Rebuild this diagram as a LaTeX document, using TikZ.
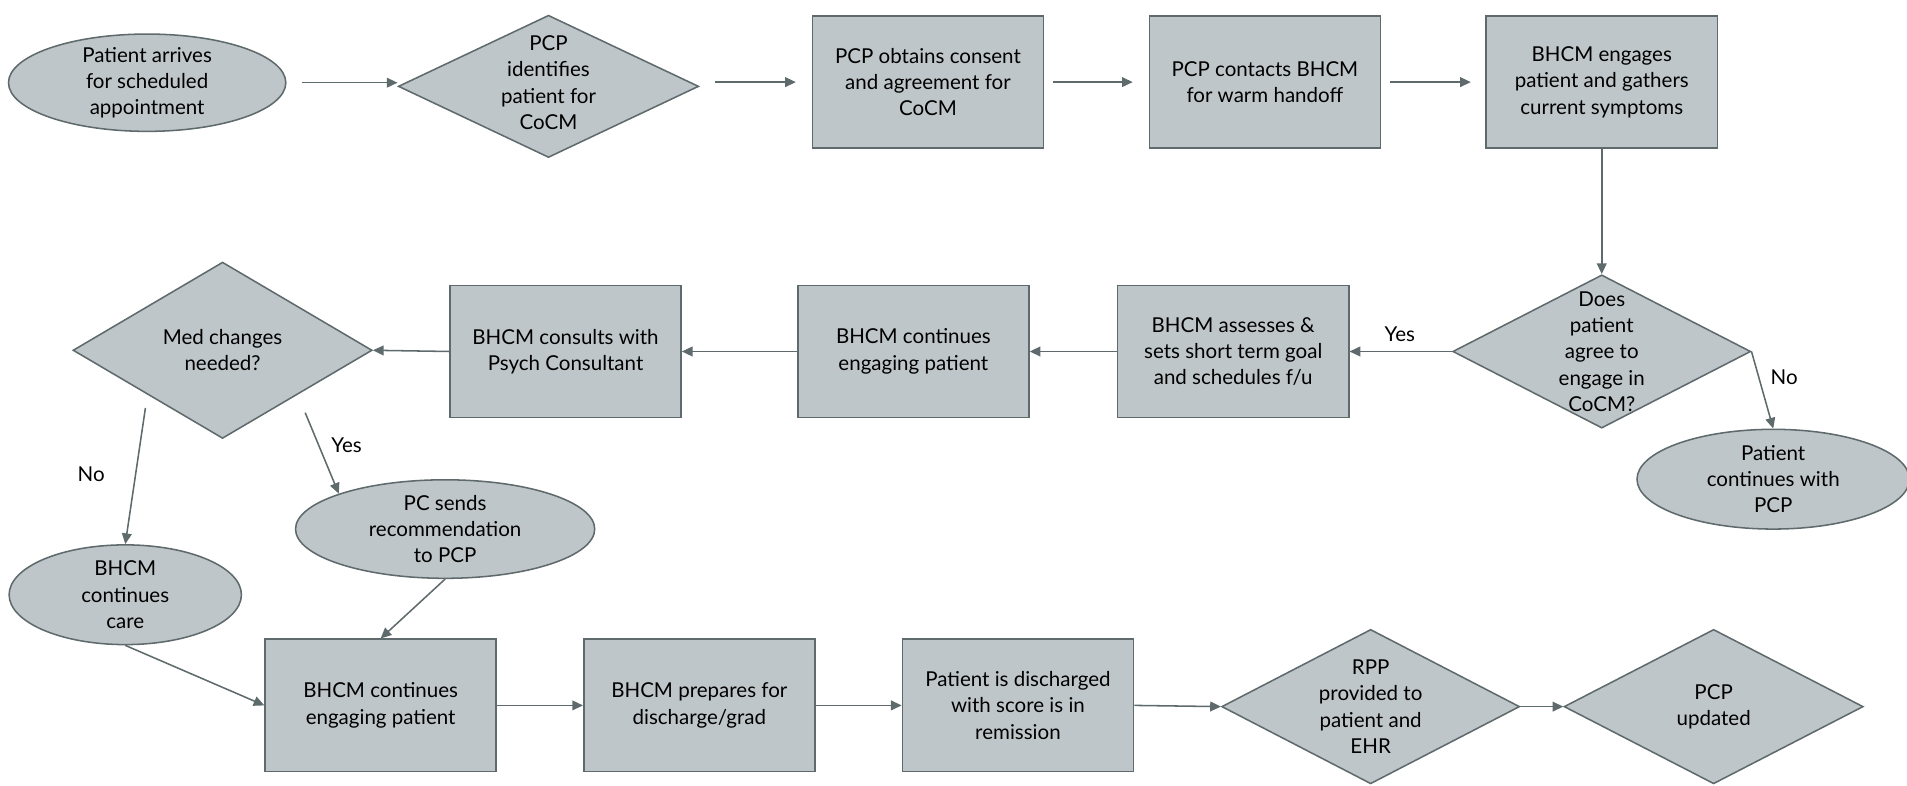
\documentclass[tikz,border=0pt]{standalone}
\usepackage{fontspec}
\setmainfont{Lato}
\usetikzlibrary{shapes.geometric,arrows.meta}
\definecolor{shapefill}{RGB}{191,198,201}
\definecolor{shapeline}{RGB}{95,106,108}
\tikzset{
  shp/.style={draw=shapeline,fill=shapefill,line width=0.9pt,inner sep=0pt},
  box/.style={shp,rectangle,minimum width=47.5mm,minimum height=27.2mm,align=center},
  term/.style={shp,ellipse},
  decide/.style={shp,diamond},
  txt/.style={align=center,inner sep=0pt},
  flow/.style={draw=shapeline,line width=0.9pt,-{Triangle[length=2.2mm,width=2mm]}}
}
\begin{document}
\begin{tikzpicture}[x=0.25mm,y=-0.25mm,font=\fontsize{12}{15.4}\selectfont]
\useasboundingbox (0,0) rectangle (1568,646);
\node[term,minimum width=57mm,minimum height=20mm] (e1) at (121,68) {};
\node[txt] (e1t) at (e1) {Patient arrives\\for scheduled\\appointment};
\node[decide,minimum width=61.75mm,minimum height=29.25mm] (d1) at (451,71) {};
\node[txt] (d1t) at (451,68) {PCP\\identifies\\patient for\\CoCM};
\node[box] (r1) at (763,67.5) {PCP obtains consent\\and agreement for\\CoCM};
\node[box] (r2) at (1040,67.5) {PCP contacts BHCM\\for warm handoff};
\node[box] (r3) at (1317,67.5) {BHCM engages\\patient and gathers\\current symptoms};
\node[decide,minimum width=61.25mm,minimum height=31.5mm] (d2) at (1317,289) {};
\node[txt] (d2t) at (d2) {Does\\patient\\agree to\\engage in\\CoCM?};
\node[box] (r4) at (1014,289) {BHCM assesses \&\\sets short term goal\\and schedules f/u};
\node[box] (r5) at (751,289) {BHCM continues\\engaging patient};
\node[box] (r6) at (465,289) {BHCM consults with\\Psych Consultant};
\node[decide,minimum width=61.5mm,minimum height=36.25mm] (d3) at (183,288) {};
\node[txt] (d3t) at (d3) {Med changes\\needed?};
\node[term,minimum width=56mm,minimum height=20.5mm] (e3) at (1458,394) {};
\node[txt] (e3t) at (e3) {Patient\\continues with\\PCP};
\node[term,minimum width=47.75mm,minimum height=20.5mm] (e4) at (103,489) {};
\node[txt] (e4t) at (e4) {BHCM\\continues\\care};
\node[term,minimum width=61.5mm,minimum height=20.25mm] (e5) at (366,435) {};
\node[txt] (e5t) at (e5) {PC sends\\recommendation\\to PCP};
\node[box] (r7) at (313,580) {BHCM continues\\engaging patient};
\node[box] (r8) at (575,580) {BHCM prepares for\\discharge/grad};
\node[box] (r9) at (837,580) {Patient is discharged\\with score is in\\remission};
\node[decide,minimum width=61.25mm,minimum height=31.75mm] (d4) at (1127,581) {};
\node[txt] (d4t) at (d4) {RPP\\provided to\\patient and\\EHR};
\node[decide,minimum width=61.5mm,minimum height=31.75mm] (d5) at (1409,581) {};
\node[txt] (d5t) at (d5) {PCP\\updated};
\node (yes1) at (1151,275) {Yes};
\node (no1) at (1467,310) {No};
\node (no2) at (75,390) {No};
\node (yes2) at (285,366) {Yes};
\draw[flow,shorten <=3.25mm] (e1.east) -- (e1.east -| d1.west);
\draw[flow,shorten <=3.25mm,shorten >=3.25mm] (r1.west -| d1.east) -- (r1.west);
\draw[flow,shorten <=1.75mm,shorten >=3.25mm] (r1.east) -- (r2.west);
\draw[flow,shorten <=1.75mm,shorten >=3mm] (r2.east) -- (r3.west);
\draw[flow] (r3.south) -- (d2.north);
\draw[flow] (d2.west) -- (r4.east);
\draw[flow] (r4.west) -- (r5.east);
\draw[flow] (r5.west) -- (r6.east);
\draw[flow] (r6.west) -- (d3.east);
\draw[flow] (d2.east) -- (e3.north);
\draw[flow,shorten <=2.75mm] (d3.south west) -- (e4.north);
\draw[flow,shorten <=4mm] (d3.south east) -- (e5.north west);
\draw[flow] (e5.south) -- (r7.north);
\draw[flow] (e4.south) -- (r7.west);
\draw[flow] (r7.east) -- (r8.west);
\draw[flow] (r8.east) -- (r9.west);
\draw[flow] (r9.east) -- (d4.west);
\draw[flow] (d4.east) -- (d5.west);
\end{tikzpicture}
\end{document}
